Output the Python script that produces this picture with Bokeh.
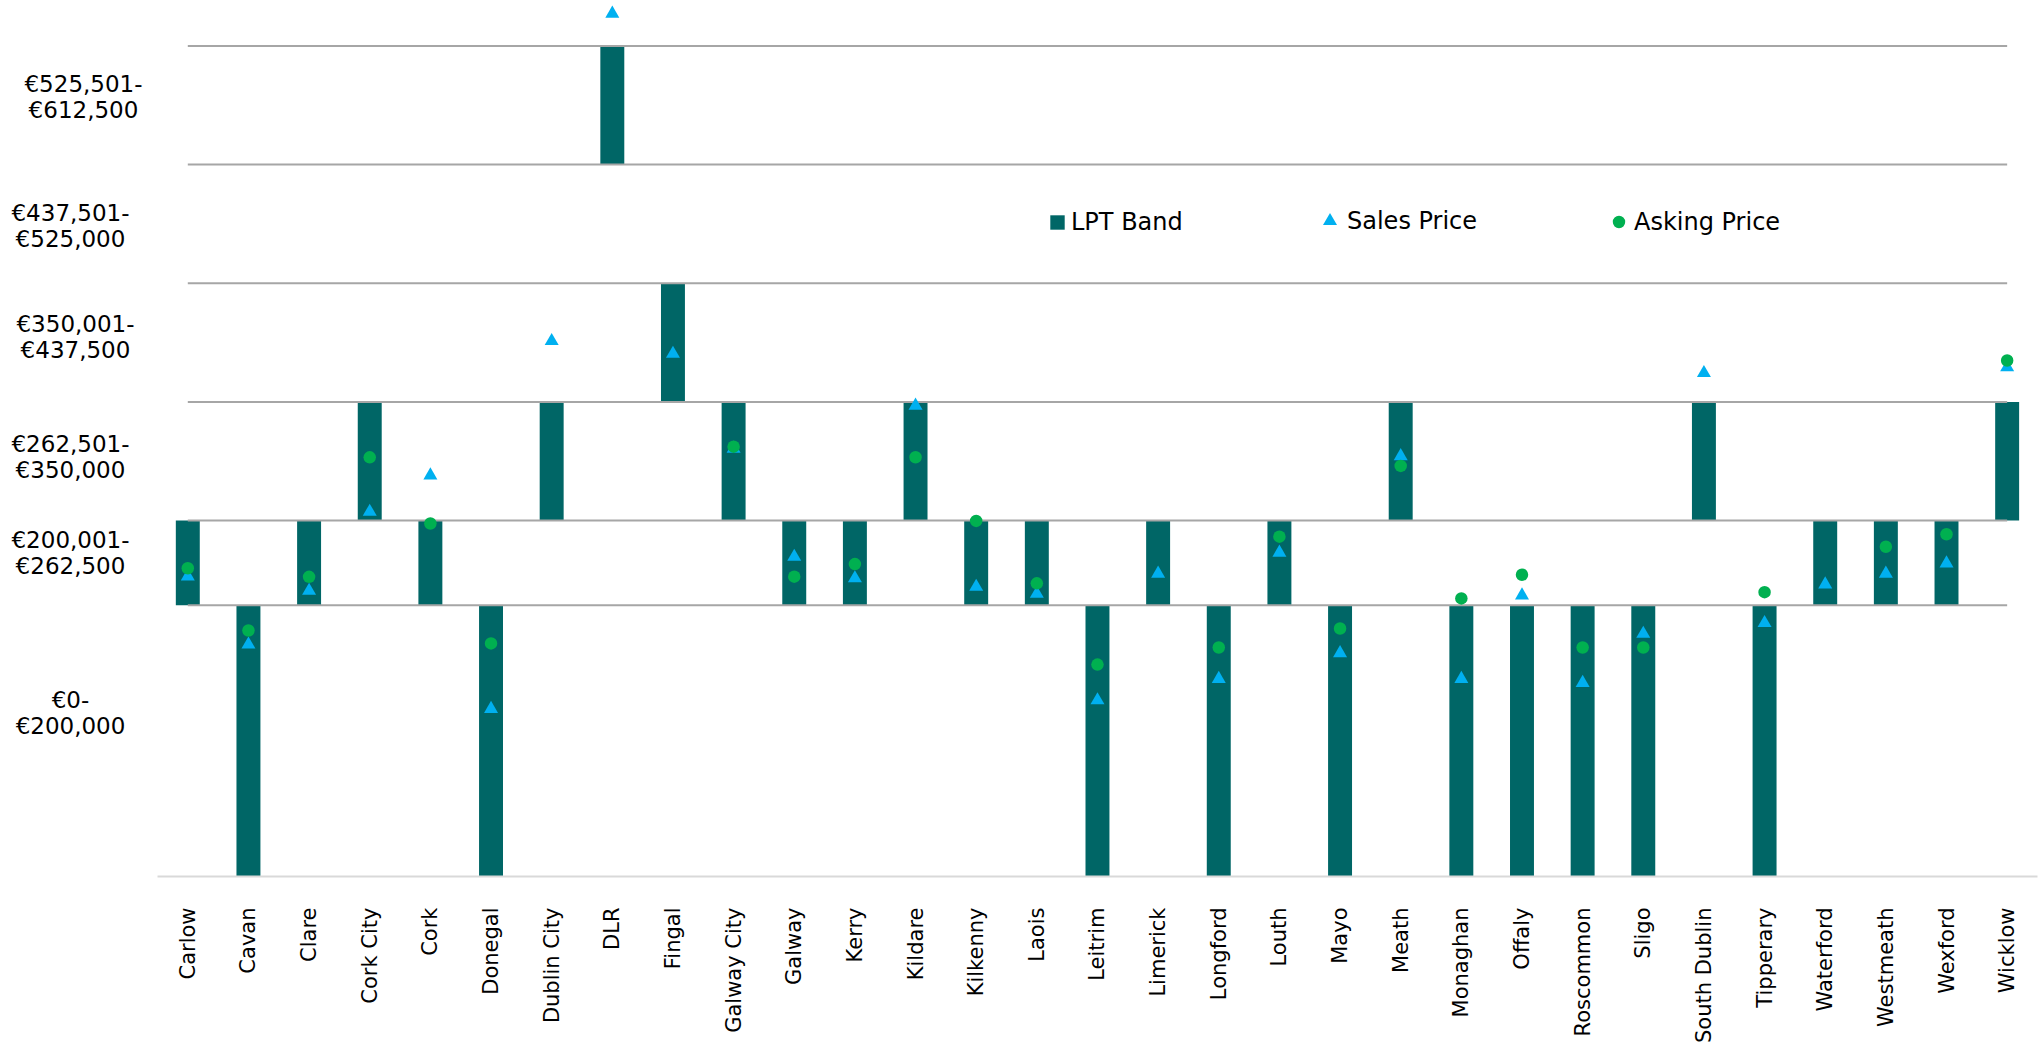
import math
from bokeh.plotting import figure
from bokeh.models import Range1d, Legend, LegendItem, FixedTicker
from bokeh.embed import file_html
from bokeh.resources import INLINE

NAN = float("nan")

counties = ["Carlow", "Cavan", "Clare", "Cork City", "Cork", "Donegal", "Dublin City",
            "DLR", "Fingal", "Galway City", "Galway", "Kerry", "Kildare", "Kilkenny",
            "Laois", "Leitrim", "Limerick", "Longford", "Louth", "Mayo", "Meath",
            "Monaghan", "Offaly", "Roscommon", "Sligo", "South Dublin", "Tipperary",
            "Waterford", "Westmeath", "Wexford", "Wicklow"]

band_edges = [0, 200000, 262500, 350000, 437500, 525000, 612500]
band_labels = ["€0-\n€200,000", "€200,001-\n€262,500", "€262,501-\n€350,000",
               "€350,001-\n€437,500", "€437,501-\n€525,000", "€525,501-\n€612,500"]

# LPT band index of each county (0 = lowest band)
lpt_band = [1, 0, 1, 2, 1, 0, 2, 5, 3, 2, 1, 1, 2, 1, 1, 0, 1, 0, 1, 0, 2,
            0, 0, 0, 0, 2, 0, 1, 1, 1, 2]

sales_price = [221300, 171100, 210700, 269000, 295800, 123600, 394900, 636300, 385500,
               315500, 235800, 219900, 347200, 213700, 208500, 130000, 223300, 145700,
               238800, 164700, 310000, 145700, 207300, 142800, 179000, 371300, 186900,
               215400, 223300, 230900, 375500]

asking_price = [227300, 181400, 221000, 309100, 260300, 171900, NAN, NAN, NAN,
                317000, 221100, 230400, 309200, 262200, 216200, 156300, NAN, 168900,
                250600, 182900, 302800, 205100, 222500, 168900, 168900, NAN, 209700,
                NAN, 243200, 252400, 380500]

FONT = "DejaVu Sans"

# ---- layout (pixels) ----
W, H = 2041, 1048
FRAME_H = 876
CAT_PX = 60.645          # width of one category slot
FIRST_CENTER_PX = 187.3  # canvas x of first category centre
Y_MAX = 646000

n = len(counties)
idx = list(range(n))
x_start = -FIRST_CENTER_PX / CAT_PX
x_end = x_start + W / CAT_PX

p = figure(width=W, height=H,
           x_range=Range1d(x_start, x_end),
           y_range=Range1d(0, Y_MAX),
           output_backend="svg", toolbar_location=None,
           y_axis_location=None,
           min_border_left=0, min_border_right=0,
           min_border_top=0, min_border_bottom=H - FRAME_H)
p.outline_line_color = None
p.grid.visible = False
p.background_fill_color = "white"
p.border_fill_color = "white"

bottoms = [band_edges[b] for b in lpt_band]
tops = [band_edges[b + 1] for b in lpt_band]

bars = p.vbar(x=idx, bottom=bottoms, top=tops, width=0.395,
              fill_color="#006666", line_color=None)

n_lines = len(band_edges) - 1
p.segment(x0=[idx[0]] * n_lines, x1=[idx[-1]] * n_lines,
          y0=band_edges[1:], y1=band_edges[1:],
          line_color="#A6A6A6", line_width=2)

tri = p.scatter(x=idx, y=sales_price, marker="triangle", size=14,
                fill_color="#00B0F0", line_color=None)
circ = p.scatter(x=idx, y=asking_price, marker="circle", size=12.5,
                 fill_color="#00B050", line_color=None)

ax = p.xaxis[0]
ax.ticker = FixedTicker(ticks=idx)
ax.major_label_overrides = {i: c for i, c in zip(idx, counties)}
ax.bounds = (-0.5, n - 0.5)
ax.major_label_orientation = math.pi / 2
ax.major_tick_line_color = None
ax.minor_tick_line_color = None
ax.major_tick_out = 0
ax.major_tick_in = 0
ax.axis_line_color = "#D9D9D9"
ax.axis_line_width = 2
ax.major_label_text_font = FONT
ax.major_label_text_font_size = "21px"
ax.major_label_text_color = "black"
ax.major_label_standoff = 31

# band labels on the left: canvas x of centre, pixel shift from band middle
label_cx = [70, 70, 70, 75, 70, 83]
label_dy = [28, 10, 4, 6, -2, 8]
y_per_px = Y_MAX / FRAME_H
lab_x = [x_start + cx / CAT_PX for cx in label_cx]
lab_y = [(band_edges[i] + band_edges[i + 1]) / 2 + label_dy[i] * y_per_px
         for i in range(len(band_labels))]
p.text(x=lab_x, y=lab_y, text=band_labels, text_align="center",
       text_baseline="middle", text_font={"value": FONT},
       text_font_size="23px", text_color="black", text_line_height=1.0)


def add_legend(label, renderer, gw, gh, loc, standoff):
    lg = Legend(items=[LegendItem(label=label, renderers=[renderer])],
                location=loc, orientation="horizontal",
                glyph_width=gw, glyph_height=gh, label_standoff=standoff,
                padding=0, margin=0, spacing=0,
                border_line_color=None, background_fill_alpha=0,
                label_text_font=FONT, label_text_font_size="24px",
                label_text_color="black", label_text_baseline="middle")
    p.add_layout(lg, "center")


add_legend("LPT Band", bars, 18, 18, (1048, 640), 5)
add_legend("Sales Price", tri, 35, 35, (1312, 638), -7)
add_legend("Asking Price", circ, 31, 31, (1603, 639), 0)

open("out.html", "w").write(file_html(p, INLINE))
